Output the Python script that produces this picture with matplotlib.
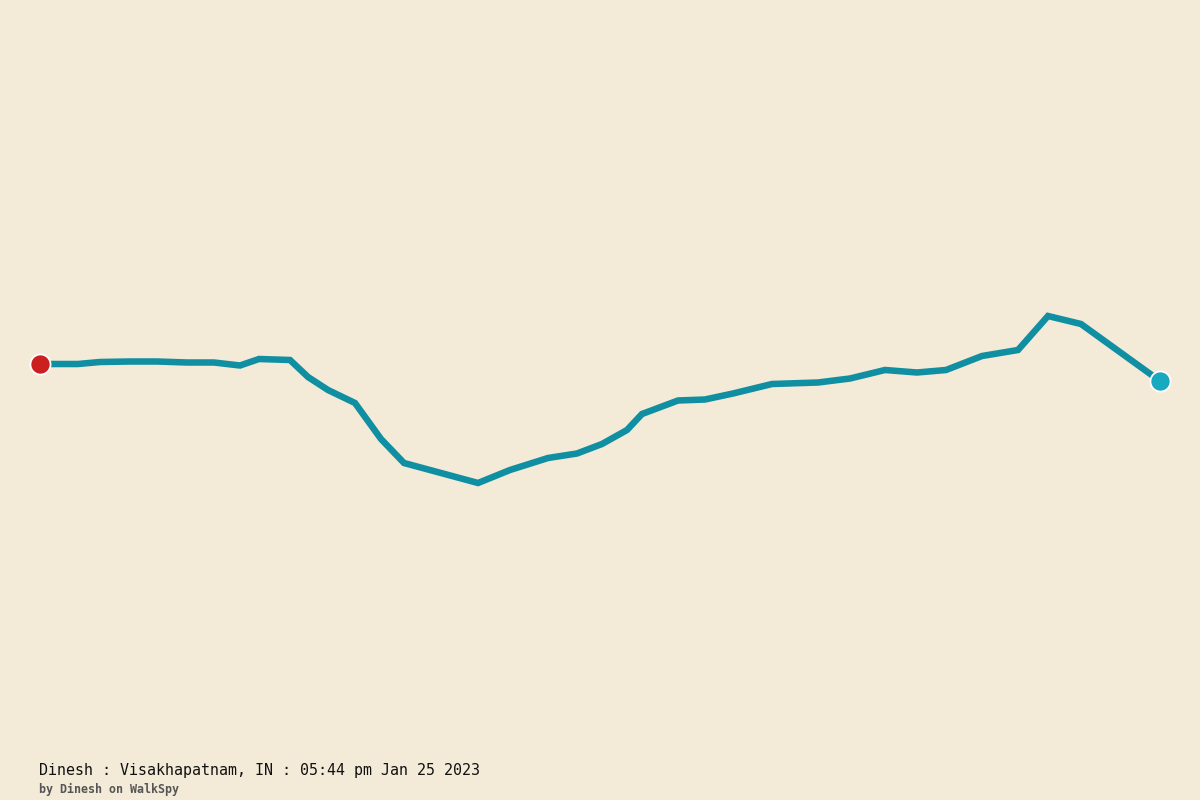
import matplotlib
matplotlib.use('Agg')
import matplotlib.pyplot as plt

# walk track
track_x = [40, 78, 100, 130, 157, 187, 214, 240, 259, 290, 308, 328, 355, 381, 404, 478,
           510, 548, 577, 602, 627, 642, 678, 705, 733, 772, 818, 850, 885, 917, 946, 982,
           1018, 1048, 1081, 1160]
track_y = [364, 364, 362, 361.5, 361.5, 362.5, 362.5, 365.5, 359, 360, 377, 390, 403, 439, 463, 483,
           470, 458, 453.5, 444, 430, 414, 400.5, 399.5, 393.5, 384, 382.5, 378.5, 370, 372.5, 370, 356,
           350, 316, 324, 381]

title = 'Dinesh : Visakhapatnam, IN : 05:44 pm Jan 25 2023'
byline = 'by Dinesh on WalkSpy'

bg = '#f3ead8'

fig = plt.figure(figsize=(12, 8), dpi=100, facecolor=bg)
ax = fig.add_axes([0, 0, 1, 1])
ax.set_facecolor(bg)
ax.set_xlim(0, 1200)
ax.set_ylim(800, 0)
ax.axis('off')

ax.plot(track_x, track_y, color='#0f8fa1', lw=4.7, solid_joinstyle='miter', solid_capstyle='butt', zorder=2)

# start and end markers
ax.plot(track_x[:1], track_y[:1], 'o', ms=14.5, mfc='#cc1f20', mec='white', mew=1.3, zorder=3)
ax.plot(track_x[-1:], track_y[-1:], 'o', ms=14.5, mfc='#17a9c0', mec='white', mew=1.3, zorder=3)

ax.text(39, 770, title, family='DejaVu Sans Mono', fontsize=10.8, color='#111111', va='center', ha='left')
ax.text(39, 789, byline, family='DejaVu Sans Mono', fontsize=8.4, fontweight='bold', color='#555555', va='center', ha='left')

fig.savefig('out.png', dpi=100, facecolor=bg)
